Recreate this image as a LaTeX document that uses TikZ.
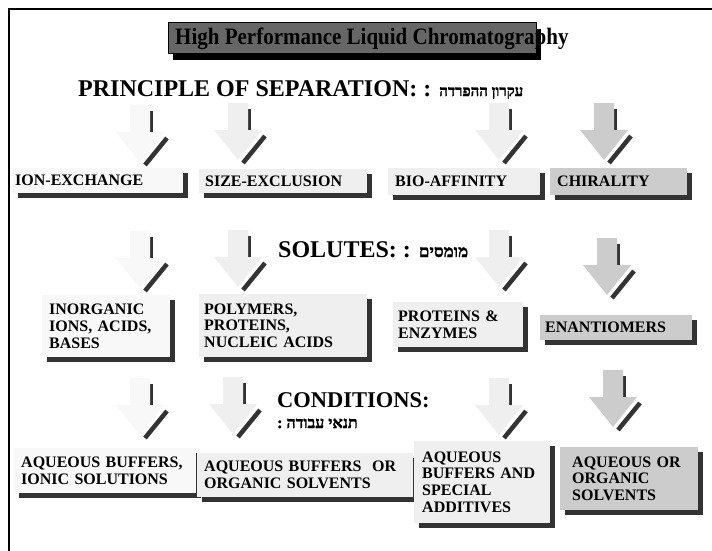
\documentclass[tikz,border=0pt]{standalone}
\usepackage{fontspec}
\setmainfont{Liberation Serif}
\newfontfamily\hebfont[Script=Hebrew, BoldFeatures={FakeBold=1.5}]{Liberation Serif}
\TeXXeTstate=1
\usetikzlibrary{shadows}

\definecolor{shadowgray}{HTML}{333333}
\definecolor{paleA}{HTML}{F8F8F8}
\definecolor{paleB}{HTML}{EFEFEF}
\definecolor{paleC}{HTML}{CCCCCC}
\definecolor{titlegray}{HTML}{666666}

\tikzset{
  pics/downarrow/.style={code={
    % shadow edges first, then the arrow body
    \draw[shadowgray, line width=3.5pt] (11.5,6) -- (11.5,27);
    \draw[shadowgray, line width=4.5pt] (27,33) -- (5,60);
    \fill[#1] (-10,0) -- (10,0) -- (10,27) -- (24,27) -- (0,57) -- (-24,27) -- (-10,27) -- cycle;
  }},
  darkshadow/.style={drop shadow={shadow xshift=5pt, shadow yshift=-5pt, opacity=1, fill=shadowgray}},
  box/.style={rectangle, anchor=north west, inner ysep=0pt, align=left,
    font=\fontsize{16}{16.8}\selectfont\bfseries, darkshadow},
  heading/.style={anchor=base west, inner sep=0pt, font=\fontsize{24}{26}\selectfont\bfseries},
  hebsmall/.style={font=\fontsize{16}{18}\selectfont\hebfont\bfseries},
  frame/.style={draw=black, line width=2.5pt}
}

\begin{document}
\begin{tikzpicture}[x=1pt, y=-1pt]
    \useasboundingbox (0,0) rectangle (712,551);
    \fill[white] (0,0) rectangle (712,551);
    \draw[frame] (9,600) -- (9,9) -- (760,9);

    % title
    \node[draw=black, fill=titlegray, minimum width=368pt, minimum height=31pt, anchor=north west,
      drop shadow={shadow xshift=5pt, shadow yshift=-7pt, opacity=1, fill=black}] (titlebox) at (168,22) {};
    \node[anchor=base west, inner sep=0pt, font=\fontsize{21}{24}\selectfont\bfseries] (title) at (175,45) {\scalebox{1}[1.12]{High Performance Liquid Chromatography}};

    % headings
    \node[heading] (principle) at (78,96) {PRINCIPLE OF SEPARATION: : {\hebfont\fontsize{15}{17}\selectfont\beginR עקרון ההפרדה\endR}};
    \node[heading] (solutes) at (278,257) {SOLUTES: : {\hebfont\fontsize{17}{18}\selectfont\beginR מומסים\endR}};
    \node[heading, font=\fontsize{22.5}{24}\selectfont\bfseries] (conditions) at (277,407) {CONDITIONS:};
    \node[heading, hebsmall] (conditionsheb) at (277,428) {\beginR תנאי עבודה :\endR};

    % arrows
    \pic at (140,105) {downarrow=paleA};
    \pic at (238,103) {downarrow=paleB};
    \pic at (499,103) {downarrow=paleB};
    \pic at (604,103) {downarrow=paleC};

    \pic at (140,231) {downarrow=paleA};
    \pic at (238,230) {downarrow=paleB};
    \pic at (499,230) {downarrow=paleB};
    \pic at (607,238) {downarrow=paleC};

    \pic at (140,378) {downarrow=paleA};
    \pic at (233,377) {downarrow=paleB};
    \pic at (499,378) {downarrow=paleB};
    \pic at (613,370) {downarrow=paleC};

    % separation
    \node[box, fill=paleA, inner xsep=2pt, text width=166pt, minimum height=25pt] (ion) at (13,168) {ION-EXCHANGE};
    \node[box, fill=paleB, inner xsep=6pt, text width=156pt, minimum height=24pt] (size) at (199,169) {SIZE-EXCLUSION};
    \node[box, fill=paleB, inner xsep=7pt, text width=138pt, minimum height=27pt] (bio) at (388,168) {BIO-AFFINITY};
    \node[box, fill=paleC, inner xsep=7pt, text width=123pt, minimum height=27pt] (chiral) at (550,168) {CHIRALITY};

    % solutes
    \node[box, fill=paleA, inner xsep=7pt, text width=114pt, minimum height=62pt] (inorganic) at (42,295) {INORGANIC\\IONS, ACIDS,\\BASES};
    \node[box, fill=paleB, inner xsep=5pt, text width=158pt, minimum height=63pt] (polymers) at (199,294) {POLYMERS,\\PROTEINS,\\NUCLEIC ACIDS};
    \node[box, fill=paleB, inner xsep=5pt, text width=120pt, minimum height=45pt] (proteins) at (393,302) {PROTEINS \&\\ENZYMES};
    \node[box, fill=paleC, inner xsep=5pt, text width=142pt, minimum height=25pt] (enantiomers) at (540,315) {ENANTIOMERS};

    % conditions
    \node[box, fill=paleA, inner xsep=7pt, text width=168pt, minimum height=45pt] (ionic) at (14,448) {AQUEOUS BUFFERS,\\IONIC SOLUTIONS};
    \node[box, fill=paleB, inner xsep=7pt, text width=202pt, minimum height=44pt] (organic) at (197,453) {AQUEOUS BUFFERS\ \ OR\\ORGANIC SOLVENTS};
    \node[box, fill=paleB, inner xsep=8pt, text width=120pt, minimum height=82pt] (additives) at (414,441) {AQUEOUS\\BUFFERS AND\\SPECIAL\\ADDITIVES};
    \node[box, fill=paleC, inner xsep=12pt, text width=114pt, minimum height=63pt] (solvents) at (560,447) {AQUEOUS OR\\ORGANIC\\SOLVENTS};
\end{tikzpicture}
\end{document}
